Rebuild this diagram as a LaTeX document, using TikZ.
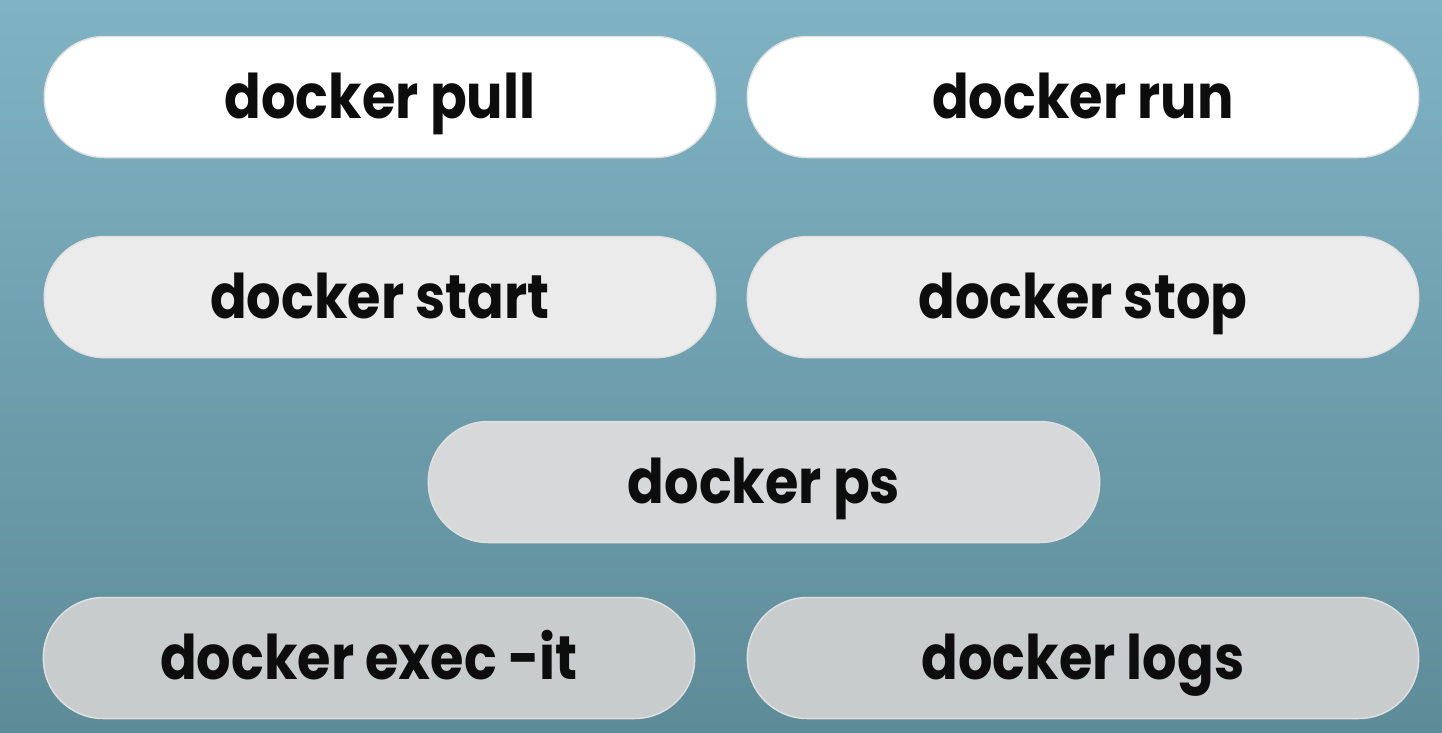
\documentclass[tikz,border=0pt]{standalone}
\usepackage{fontspec}
\setmainfont{Poppins}[FakeStretch=0.88]
\usepackage{tikz}
\usetikzlibrary{calc}
\definecolor{bgtop}{HTML}{7FB3C4}
\definecolor{bgbot}{HTML}{5E8B98}
\definecolor{pilla}{HTML}{FFFFFF}
\definecolor{pillb}{HTML}{EBEBEB}
\definecolor{pillc}{HTML}{D6D8DA}
\definecolor{pilld}{HTML}{C9CCCD}
\tikzstyle{cmd} = [rectangle, rounded corners=6mm, minimum width=6.71cm, minimum height=1.21cm, text centered, text height=0.5cm, text depth=0.08cm, draw=black!12, font=\fontsize{17.5}{19}\selectfont\bfseries, text=black!95]

\begin{document}
\begin{tikzpicture}[x=0.01cm, y=-0.01cm, node distance=2cm]

\shade[top color=bgtop, bottom color=bgbot] (0,0) rectangle (1442,732);
\useasboundingbox (0,0) rectangle (1442,732);

\node (pull) [cmd, fill=pilla] at (380,97) {docker pull};
\node (run) [cmd, fill=pilla] at (1083,97) {docker run};
\node (start) [cmd, fill=pillb, below of=pull] {docker start};
\node (stop) [cmd, fill=pillb, below of=run] {docker stop};
\node (ps) [cmd, fill=pillc] at (764,482) {docker ps};
\node (exec) [cmd, fill=pilld, minimum width=6.51cm] at (369,658) {docker exec -it};
\node (logs) [cmd, fill=pilld] at (1083,658) {docker logs};

\end{tikzpicture}
\end{document}
